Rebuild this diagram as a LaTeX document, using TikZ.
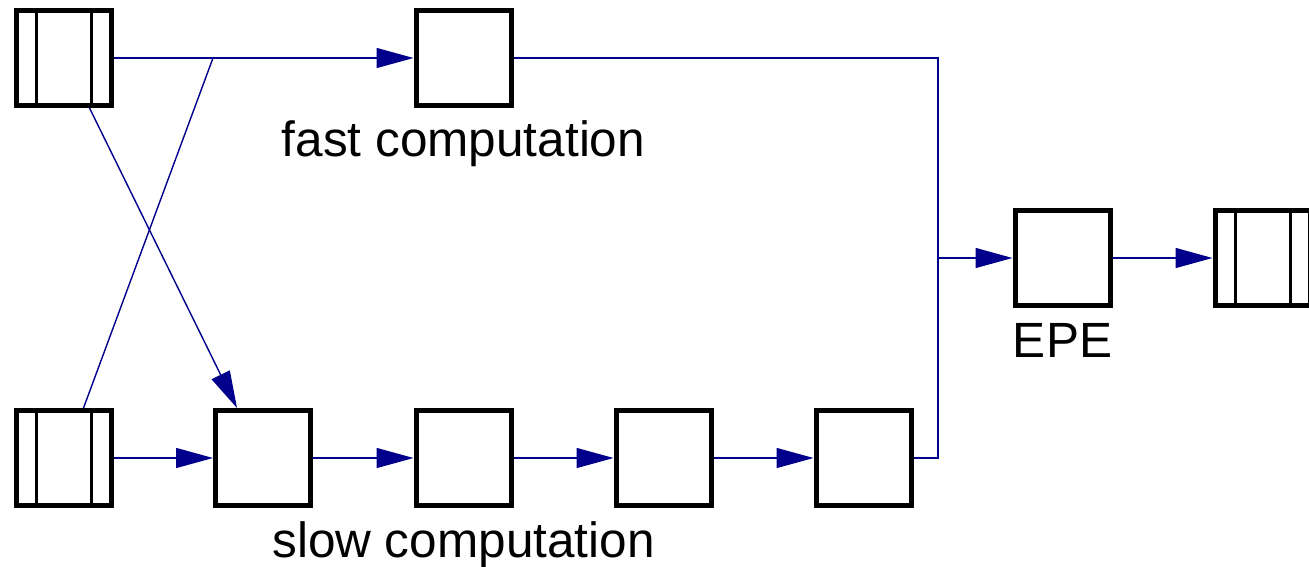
\documentclass[tikz,border=0pt]{standalone}
\usepackage{fontspec}
\setmainfont{Liberation Sans}
\usetikzlibrary{arrows.meta,calc}
\definecolor{wire}{RGB}{0,0,140}
\begin{document}
\begin{tikzpicture}[x=1pt,y=-1pt,
  unit/.style={draw=black,line width=5pt,rectangle,inner sep=0pt,
    minimum width=95pt,minimum height=95pt,fill=white},
  register/.style={unit,
    path picture={
      \draw[line width=3pt]
        ([xshift=20.5pt]path picture bounding box.north west) --
        ([xshift=20.5pt]path picture bounding box.south west);
      \draw[line width=3pt]
        ([xshift=-19.5pt]path picture bounding box.north east) --
        ([xshift=-19.5pt]path picture bounding box.south east);
    }},
  wireline/.style={draw=wire,line width=1.4pt},
  feed/.style={wireline,-{Triangle[length=37pt,width=20pt]}},
  lbl/.style={font=\fontsize{49.5}{58}\selectfont,inner sep=0pt,anchor=base}]
  \useasboundingbox (0,0) rectangle (1309,567);

  % input registers
  \node[register] (r1) at (63.5,58) {};
  \node[register] (r2) at (63.5,458) {};

  % fast path
  \node[unit] (f) at (463.5,58) {};

  % slow path
  \node[unit] (s1) at (263,458) {};
  \node[unit] (s2) at (463.5,458) {};
  \node[unit] (s3) at (663.5,458) {};
  \node[unit] (s4) at (863.5,458) {};

  % selection and output register
  \node[unit] (e) at (1062.5,258) {};
  \node[register] (out) at (1262.5,258) {};

  % labels
  \node[lbl] (fl) at ([yshift=-49pt]f.south) {fast computation};
  \node[lbl] (sl) at ([yshift=-49pt]s2.south) {slow computation};
  \node[lbl] (el) at ([yshift=-49pt]e.south) {EPE};

  % junctions
  \coordinate (cross) at (213,58);
  \coordinate (bus) at (938,258);

  % connectors
  \draw[feed] (r1.east) -- (f.west);
  \draw[wireline] ([xshift=70pt]r2.north west) -- (cross);
  \draw[feed] ([xshift=76pt]r1.south west) -- ([xshift=24pt]s1.north west);
  \draw[feed] (r2.east) -- (s1.west);
  \draw[feed] (s1.east) -- (s2.west);
  \draw[feed] (s2.east) -- (s3.west);
  \draw[feed] (s3.east) -- (s4.west);
  \draw[wireline] (f.east) -| (bus);
  \draw[wireline] (s4.east) -| (bus);
  \draw[feed] (bus) -- (e.west);
  \draw[feed] (e.east) -- (out.west);
\end{tikzpicture}
\end{document}
